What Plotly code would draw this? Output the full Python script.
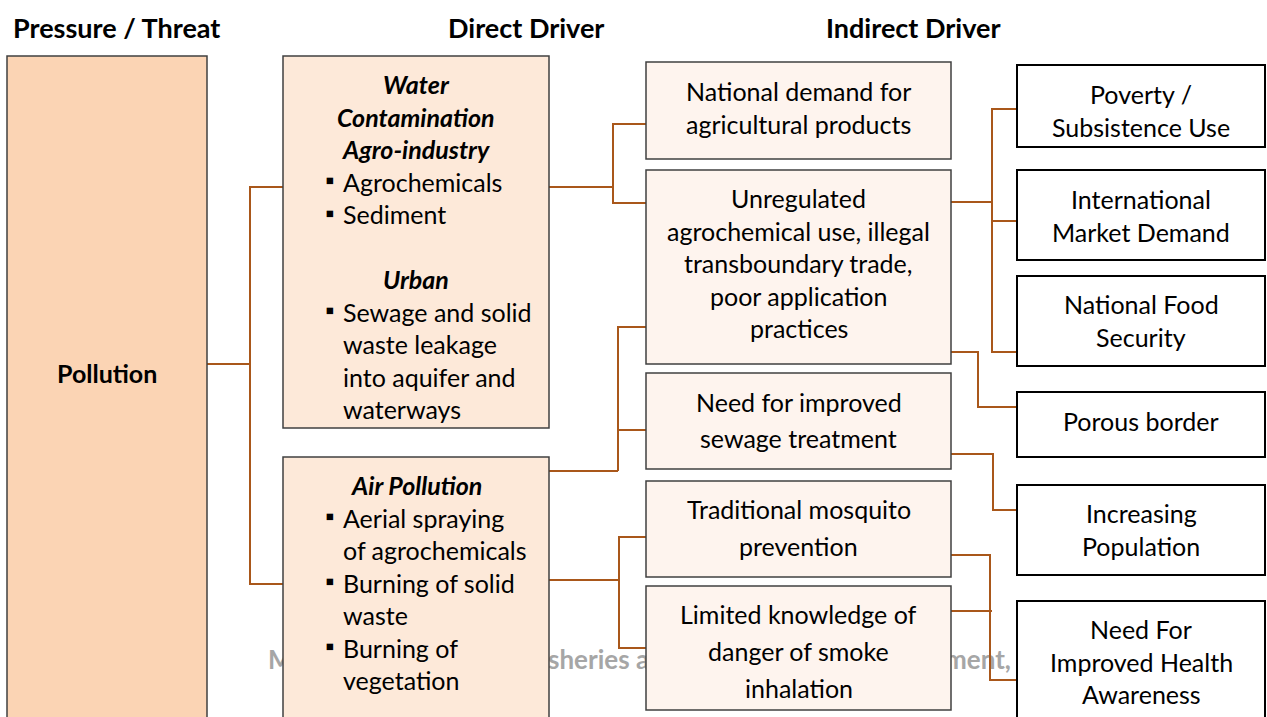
import plotly.graph_objects as go

W, H = 1267, 717

# ---------------- content ----------------
headers = ["Pressure / Threat", "Direct Driver", "Indirect Driver"]
threat = "Pollution"

water_lines = [("Water", "head"), ("Contamination", "head"), ("Agro-industry", "head"),
               ("Agrochemicals", "bullet"), ("Sediment", "bullet"), ("", "blank"),
               ("Urban", "head"), ("Sewage and solid", "bullet"), ("waste leakage", "cont"),
               ("into aquifer and", "cont"), ("waterways", "cont")]
air_lines = [("Air Pollution", "head"), ("Aerial spraying", "bullet"), ("of agrochemicals", "cont"),
             ("Burning of solid", "bullet"), ("waste", "cont"), ("Burning of", "bullet"),
             ("vegetation", "cont")]

indirect_mid = [["National demand for", "agricultural products"],
                ["Unregulated", "agrochemical use, illegal", "transboundary trade,",
                 "poor application", "practices"],
                ["Need for improved", "sewage treatment"],
                ["Traditional mosquito", "prevention"],
                ["Limited knowledge of", "danger of smoke", "inhalation"]]
indirect_right = [["Poverty /", "Subsistence Use"], ["International", "Market Demand"],
                  ["National Food", "Security"], ["Porous border"],
                  ["Increasing", "Population"], ["Need For", "Improved Health", "Awareness"]]

watermark_parts = ["Ministry of Forestry, Fi", "sheries and Sustainable Develop", "ment, Belize"]

# ---------------- layout geometry (pixels) ----------------
FONT = "Lato"
FS = 25
TEXT = "#000000"
LINE = "#A9571A"
BORDER = "#404040"
F_THREAT = "#FBD4B4"
F_DIRECT = "#FDE9D9"
F_MID = "#FEF4EE"

threat_box = (7, 56, 207, 760)
direct_boxes = [(283, 56, 549, 428), (283, 457, 549, 760)]
direct_first = [84, 485]
direct_step = 32.5
mid_x = (646, 951)
mid_boxes = [(62, 159), (170, 364), (373, 469), (481, 577), (586, 710)]
mid_first = [91, 198, 402, 509, 614]
mid_step = [32.5, 32.5, 36, 37, 37]
right_x = (1017, 1265)
right_boxes = [(65, 147), (170, 260), (276, 366), (392, 457), (485, 575), (601, 760)]
right_first = [94, 199, 304, 421, 513, 629]
right_step = 32.5

connectors = [
    [(207, 364), (250, 364)],
    [(283, 187), (250, 187), (250, 584), (283, 584)],
    [(549, 187), (613, 187)],
    [(646, 124), (613, 124), (613, 203), (646, 203)],
    [(549, 471), (618, 471)],
    [(646, 327), (618, 327), (618, 471)],
    [(618, 430), (646, 430)],
    [(549, 580), (620, 580)],
    [(646, 537), (619, 537), (619, 648), (646, 648)],
    [(951, 202), (992, 202)],
    [(1017, 109), (992, 109), (992, 352), (1017, 352)],
    [(992, 221), (1022, 221)],
    [(951, 352), (978, 352), (978, 407), (1017, 407)],
    [(951, 454), (993, 454), (993, 510), (1017, 510)],
    [(951, 555), (990, 555), (990, 680), (1017, 680)],
    [(951, 611), (992, 611)],
]

fig = go.Figure()

# watermark (drawn as trace so boxes cover it)
wm_x = [268, 548, 945]
fig.add_trace(go.Scatter(
    x=wm_x, y=[662] * 3, mode="text",
    text=[f"<b>{t}</b>" for t in watermark_parts],
    textposition="middle right",
    textfont=dict(family=FONT, size=26, color="#A6A6A6"),
    hoverinfo="skip", showlegend=False))

shapes = []
for pts in connectors:
    d = "M " + " L ".join(f"{x},{y}" for x, y in pts)
    shapes.append(dict(type="path", path=d, xref="x", yref="y",
                       line=dict(color=LINE, width=2), layer="above"))

def rect(x0, y0, x1, y1, fill, border, w):
    shapes.append(dict(type="rect", x0=x0, y0=y0, x1=x1, y1=y1, xref="x", yref="y",
                       fillcolor=fill, line=dict(color=border, width=w), layer="above"))

rect(*threat_box, F_THREAT, BORDER, 1.5)
for b in direct_boxes:
    rect(*b, F_DIRECT, BORDER, 1.5)
for (y0, y1) in mid_boxes:
    rect(mid_x[0], y0, mid_x[1], y1, F_MID, BORDER, 1.5)
for (y0, y1) in right_boxes:
    rect(right_x[0], y0, right_x[1], y1, "#FFFFFF", "#000000", 2)

ann = []
def text(x, y, s, anchor="center", bold=False, italic=False, size=FS, color=TEXT):
    if bold:
        s = f"<b>{s}</b>"
    if italic:
        s = f"<i>{s}</i>"
    ann.append(dict(x=x, y=y, xref="x", yref="y", text=s, showarrow=False,
                    xanchor=anchor, yanchor="middle",
                    font=dict(family=FONT, size=size, color=color)))

for hx, h in zip([116, 526, 913], headers):
    text(hx, 27, h, bold=True, size=27)
text(107, 373, threat, bold=True, size=25)

for lines, y0 in zip([water_lines, air_lines], direct_first):
    for i, (s, kind) in enumerate(lines):
        y = y0 + i * direct_step
        if kind == "head":
            text(416, y, s, bold=True, italic=True)
        elif kind == "bullet":
            text(330, y - 2, "\u25AA", size=24)
            text(341, y, s, anchor="left")
        elif kind == "cont":
            text(341, y, s, anchor="left")

cx_mid = (mid_x[0] + mid_x[1]) / 2
for lines, y0, st in zip(indirect_mid, mid_first, mid_step):
    for i, s in enumerate(lines):
        text(cx_mid, y0 + i * st, s)

cx_r = (right_x[0] + right_x[1]) / 2
for lines, y0 in zip(indirect_right, right_first):
    for i, s in enumerate(lines):
        text(cx_r, y0 + i * right_step, s)

fig.update_layout(
    width=W, height=H, margin=dict(l=0, r=0, t=0, b=0),
    paper_bgcolor="white", plot_bgcolor="white",
    xaxis=dict(range=[0, W], visible=False, fixedrange=True),
    yaxis=dict(range=[H, 0], visible=False, fixedrange=True),
    shapes=shapes, annotations=ann, showlegend=False)

fig.write_html(
    "out.html",
    config=dict(displayModeBar=False, staticPlot=True),
    post_script="document.body.style.margin='0px';document.body.style.overflow='hidden';")
